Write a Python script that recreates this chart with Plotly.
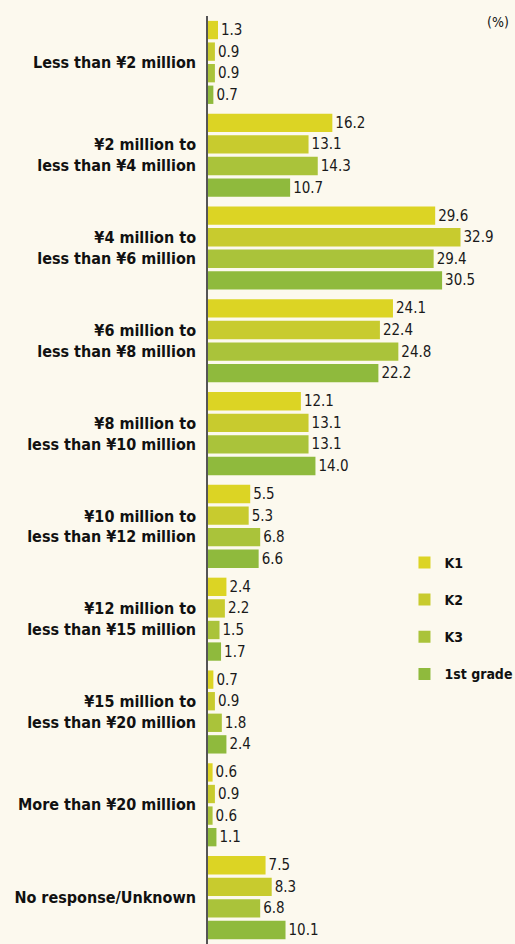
import plotly.graph_objects as go

categories = [
    "Less than ¥2 million",
    "¥2 million to<br>less than ¥4 million",
    "¥4 million to<br>less than ¥6 million",
    "¥6 million to<br>less than ¥8 million",
    "¥8 million to<br>less than ¥10 million",
    "¥10 million to<br>less than ¥12 million",
    "¥12 million to<br>less than ¥15 million",
    "¥15 million to<br>less than ¥20 million",
    "More than ¥20 million",
    "No response/Unknown",
]
series_names = ["K1", "K2", "K3", "1st grade"]
k1 = [1.3, 16.2, 29.6, 24.1, 12.1, 5.5, 2.4, 0.7, 0.6, 7.5]
k2 = [0.9, 13.1, 32.9, 22.4, 13.1, 5.3, 2.2, 0.9, 0.9, 8.3]
k3 = [0.9, 14.3, 29.4, 24.8, 13.1, 6.8, 1.5, 1.8, 0.6, 6.8]
grade1 = [0.7, 10.7, 30.5, 22.2, 14.0, 6.6, 1.7, 2.4, 1.1, 10.1]
colors = ["#dcd424", "#c8cb2e", "#aac33a", "#8fba3d"]

FONT = "DejaVu Sans Condensed, Roboto, sans-serif"

fig = go.Figure()
for name, vals, col in zip(series_names, [k1, k2, k3, grade1], colors):
    fig.add_trace(go.Bar(
        y=categories, x=vals, name=name, orientation="h",
        marker=dict(color=col, line=dict(width=0)),
        texttemplate="%{x:.1f}", textposition="outside",
        textfont=dict(size=15, color="#1a1a1a", family=FONT),
        cliponaxis=False, legendgroup=name,
    ))

fig.update_layout(
    width=515, height=944,
    margin=dict(l=208, r=0, t=16, b=0, autoexpand=False),
    paper_bgcolor="#fcf9ee", plot_bgcolor="#fcf9ee",
    barmode="group", bargap=0.07, bargroupgap=0.15,
    font=dict(family=FONT, color="#111111"),
    showlegend=True,
    legend=dict(x=0.64, y=0.428, xanchor="left", yanchor="top",
                bgcolor="rgba(0,0,0,0)", tracegroupgap=16,
                font=dict(size=14, family=FONT, color="#111111", weight="bold"),
                traceorder="grouped"),
    xaxis=dict(range=[0, 40], visible=False, automargin=False),
    yaxis=dict(autorange="reversed", showline=True, linecolor="#555555", linewidth=1.5,
               ticks="", ticklabelstandoff=7, showgrid=False, automargin=False,
               tickfont=dict(size=16, family=FONT, color="#111111", weight="bold")),
    annotations=[dict(text="(%)", x=1, y=1, xref="paper", yref="paper",
                      xanchor="right", yanchor="bottom", xshift=-4, yshift=-16,
                      showarrow=False, font=dict(size=14, family=FONT, color="#111111"))],
)

fig.write_html(
    "out.html",
    config={"displayModeBar": False},
    post_script="document.body.style.margin='0';document.body.style.overflow='hidden';",
)
